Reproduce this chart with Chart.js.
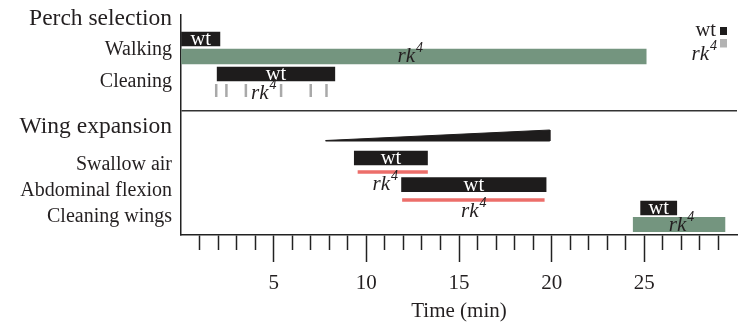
<!DOCTYPE html>
<html>
<head>
<meta charset="utf-8">
<script src="https://cdn.jsdelivr.net/npm/chart.js@4.4.0/dist/chart.umd.min.js"></script>
<style>
  html, body { margin: 0; padding: 0; background: #fff; }
</style>
</head>
<body>
<canvas id="myChart" width="746" height="325"></canvas>
<script>
// behaviours shown as rows of the timeline
const groups = ['Perch selection', 'Wing expansion'];
const rows = ['Walking', 'Cleaning', 'Swallow air', 'Abdominal flexion', 'Cleaning wings'];

// time windows (min) for each row, null = no bar
const wtStart  = [0,    1.95, 9.35, 11.9,  24.8];
const wtEnd    = [2.1,  8.3,  13.3, 19.7,  26.75];
const rk4Start = [0,    null, 9.55, 11.95, 24.4];
const rk4End   = [25.1, null, 13.3, 19.6,  29.35];

// rk4 cleaning only shows up as short bouts
const rk4CleaningBouts = [1.9, 2.45, 3.5, 5.4, 7.0, 7.85];

// wing expansion ramps up between these two times
const wingStart = 7.8;
const wingEnd = 19.9;

const xTickLabels = [5, 10, 15, 20, 25];
const xMin = 0;
const xMax = 30;

// ---- layout / style (px below the top of the plot) ----
const lane = {
  group: [3.5, 111.5],
  label: [35, 67, 150, 176, 202],
  wt: [24, 59, 143, 169.7, 193],
  rk4: [41.5, 75.5, 157, 185, 209.5],
  divider: 96,
  wingBase: 126
};
const wingHeight = 11;
const BLACK = '#1e1c1c';
const GREEN = '#74957f';
const RED = '#ec6e6a';
const GRAY = '#a9a9a9';
const rk4Color = [GREEN, GRAY, RED, RED, GREEN];
const rk4Thick = [15, 13, 3, 3, 14.5];
const rk4LabelShift = [[-4, 0], [-8, 3], [-8, 12], [0, 11], [2, 1]];
const FONT = '"Liberation Serif", "Times New Roman", serif';
const TEXT = '#231f20';

const datasets = [];

// wt bars
datasets.push({
  type: 'bar',
  tag: 'wt',
  data: rows.map((r, i) => ({x: [wtStart[i], wtEnd[i]], y: lane.wt[i]})),
  backgroundColor: BLACK,
  barThickness: 14,
  grouped: false
});

// rk4 bars, one dataset each so every row gets its own thickness
rows.forEach((r, i) => {
  if (rk4Start[i] === null) return;
  datasets.push({
    type: 'bar',
    tag: 'rk4',
    row: i,
    data: [{x: [rk4Start[i], rk4End[i]], y: lane.rk4[i]}],
    backgroundColor: rk4Color[i],
    barThickness: rk4Thick[i],
    grouped: false
  });
});

// rk4 cleaning bouts as short vertical strokes
datasets.push({
  type: 'scatter',
  tag: 'rk4',
  row: 1,
  data: rk4CleaningBouts.map(t => ({x: t, y: lane.rk4[1]})),
  pointStyle: 'line',
  rotation: 90,
  radius: 6.5,
  borderWidth: 2.5,
  borderColor: GRAY,
  showLine: false
});

// wing expansion wedge as a closed filled shape
datasets.push({
  type: 'line',
  indexAxis: 'x',
  data: [
    {x: wingStart, y: lane.wingBase - 0.5},
    {x: wingEnd, y: lane.wingBase - wingHeight},
    {x: wingEnd, y: lane.wingBase},
    {x: wingStart, y: lane.wingBase}
  ],
  borderWidth: 1,
  borderColor: BLACK,
  pointRadius: 0,
  tension: 0,
  backgroundColor: BLACK,
  fill: 'shape'
});

function drawRk4(ctx, x, y, align) {
  ctx.save();
  ctx.fillStyle = TEXT;
  ctx.textBaseline = 'middle';
  ctx.textAlign = 'left';
  ctx.font = 'italic 21px ' + FONT;
  const w1 = ctx.measureText('rk').width;
  ctx.font = 'italic 14px ' + FONT;
  const w2 = ctx.measureText('4').width;
  const x0 = align === 'right' ? x - w1 - w2 : x - (w1 + w2) / 2;
  ctx.font = 'italic 21px ' + FONT;
  ctx.fillText('rk', x0, y);
  ctx.font = 'italic 14px ' + FONT;
  ctx.fillText('4', x0 + w1 + 1, y - 8);
  ctx.restore();
}

const labelPlugin = {
  id: 'barLabels',
  afterDatasetsDraw(chart) {
    const ctx = chart.ctx;
    chart.data.datasets.forEach((ds, d) => {
      const meta = chart.getDatasetMeta(d);
      if (ds.tag === 'wt') {
        meta.data.forEach(el => {
          ctx.save();
          ctx.fillStyle = '#fff';
          ctx.font = '20.5px ' + FONT;
          ctx.textAlign = 'center';
          ctx.textBaseline = 'middle';
          ctx.fillText('wt', (el.x + el.base) / 2, el.y + 0.5);
          ctx.restore();
        });
      } else if (ds.tag === 'rk4') {
        const xs = meta.data.map(el => el.base !== undefined ? [el.x, el.base] : [el.x]).flat();
        const cx = (Math.min(...xs) + Math.max(...xs)) / 2;
        const sh = rk4LabelShift[ds.row];
        drawRk4(ctx, cx + sh[0], meta.data[0].y + sh[1], 'center');
      }
    });

    // key in the top right corner
    const ca = chart.chartArea;
    ctx.save();
    ctx.fillStyle = BLACK;
    ctx.fillRect(ca.right - 17, ca.top + 12, 7, 8);
    ctx.fillStyle = '#b3b3b3';
    ctx.fillRect(ca.right - 17, ca.top + 24, 7, 8.5);
    ctx.fillStyle = TEXT;
    ctx.font = '20.5px ' + FONT;
    ctx.textAlign = 'right';
    ctx.textBaseline = 'middle';
    ctx.fillText('wt', ca.right - 21, ca.top + 16);
    ctx.restore();
    drawRk4(ctx, ca.right - 21, ca.top + 39, 'right');
  }
};

const yLabels = {};
groups.forEach((g, k) => { yLabels[lane.group[k]] = g; });
rows.forEach((r, i) => { yLabels[lane.label[i]] = r; });

new Chart('myChart', {
  type: 'bar',
  data: {datasets: datasets},
  plugins: [labelPlugin],
  options: {
    indexAxis: 'y',
    responsive: false,
    animation: false,
    layout: {padding: {top: 15, right: 6, left: 0, bottom: 0}},
    plugins: {
      legend: {display: false},
      tooltip: {enabled: false}
    },
    scales: {
      y: {
        type: 'linear',
        reverse: true,
        min: 0,
        max: 220,
        offset: false,
        afterBuildTicks: s => {
          s.ticks = Object.keys(yLabels).map(Number).concat([lane.divider]).map(v => ({value: v}));
        },
        afterFit: s => { s.width = 181; s.paddingTop = 0; s.paddingBottom = 0; },
        ticks: {
          autoSkip: false,
          padding: 9,
          color: TEXT,
          callback: v => yLabels[v] || '',
          font: c => ({family: FONT, size: lane.group.includes(c.tick && c.tick.value) ? 23.5 : 20})
        },
        grid: {
          offset: false,
          drawTicks: false,
          lineWidth: 1.5,
          color: c => (c.tick && c.tick.value === lane.divider) ? '#333' : 'rgba(0,0,0,0)'
        },
        border: {display: true, color: '#222', width: 1.5}
      },
      x: {
        type: 'linear',
        position: 'bottom',
        weight: 0,
        min: xMin,
        max: xMax,
        offset: false,
        ticks: {display: false, stepSize: 1},
        grid: {
          offset: false,
          drawOnChartArea: false,
          tickLength: 15,
          tickWidth: 1.5,
          tickColor: c => (c.tick && (c.tick.value === xMin || c.tick.value === xMax)) ? 'rgba(0,0,0,0)' : '#222'
        },
        border: {display: true, color: '#222', width: 1.5}
      },
      xMajor: {
        type: 'linear',
        position: 'bottom',
        weight: 1,
        min: xMin,
        max: xMax,
        offset: false,
        afterBuildTicks: s => { s.ticks = xTickLabels.map(v => ({value: v})); },
        afterFit: s => { s.height = 75; },
        ticks: {padding: 9, color: TEXT, font: {family: FONT, size: 21}, autoSkip: false},
        grid: {
          offset: false,
          drawOnChartArea: false,
          tickLength: 12,
          tickWidth: 1.5,
          tickColor: '#222'
        },
        border: {display: false},
        title: {
          display: true,
          text: 'Time (min)',
          color: TEXT,
          font: {family: FONT, size: 21},
          padding: {top: 0, bottom: 1}
        }
      }
    }
  }
});
</script>
</body>
</html>
